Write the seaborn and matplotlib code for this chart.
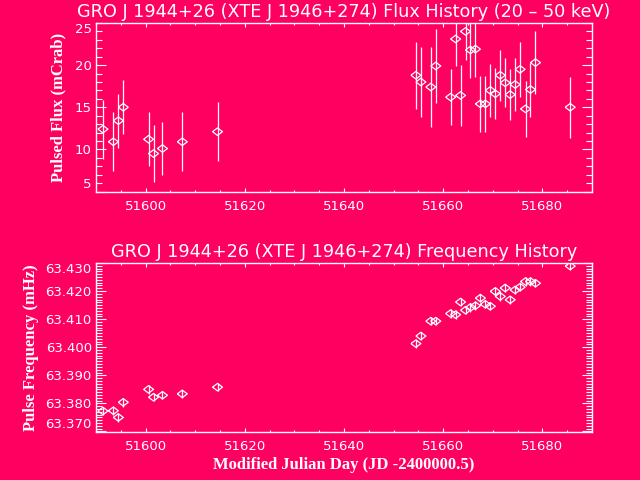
import numpy as np
import pandas as pd
import matplotlib
matplotlib.use("Agg")
import matplotlib.pyplot as plt
from matplotlib.ticker import MultipleLocator, FormatStrFormatter
import seaborn as sns

# Observation epochs (MJD), shared by both panels
mjd = [51591.4, 51593.5, 51594.5, 51595.5, 51600.6, 51601.6, 51603.4, 51607.4,
       51614.5, 51654.5, 51655.5, 51657.5, 51658.5, 51661.5, 51662.5, 51663.5,
       51664.5, 51665.5, 51666.5, 51667.5, 51668.5, 51669.5, 51670.5, 51671.5,
       51672.5, 51673.5, 51674.5, 51675.5, 51676.6, 51677.6, 51678.6, 51685.6]

# pulsed flux (mCrab), 20-50 keV
flux = [12.4, 10.9, 13.4, 15.0, 11.2, 9.5, 10.1, 10.9,
        12.1, 18.8, 18.0, 17.4, 19.9, 16.2, 23.1, 16.4,
        24.0, 21.8, 21.9, 15.4, 15.4, 17.0, 16.6, 18.8,
        17.9, 16.5, 17.7, 19.5, 14.8, 17.1, 20.3, 15.0]
flux_err = [3.5, 3.5, 3.2, 3.2, 3.2, 3.4, 3.2, 3.5,
            3.5, 4.0, 4.2, 4.7, 4.4, 3.3, 3.2, 3.6,
            3.4, 3.3, 3.3, 3.3, 3.3, 3.1, 3.0, 3.0,
            2.9, 3.0, 3.1, 3.3, 3.3, 3.2, 3.7, 3.6]

# pulse frequency (mHz)
freq = [63.3773, 63.3774, 63.3750, 63.3804, 63.3850, 63.3822, 63.3829, 63.3834,
        63.3858, 63.4013, 63.4040, 63.4093, 63.4093, 63.4120, 63.4116, 63.4161,
        63.4132, 63.4142, 63.4148, 63.4175, 63.4153, 63.4146, 63.4199, 63.4181,
        63.4211, 63.4169, 63.4204, 63.4214, 63.4234, 63.4234, 63.4228, 63.4289]
freq_err = [0.0015, 0.0015, 0.0015, 0.0015, 0.0015, 0.0015, 0.0015, 0.0015,
            0.0015, 0.0015, 0.0015, 0.0015, 0.0015, 0.0015, 0.0015, 0.0015,
            0.0015, 0.0015, 0.0015, 0.0015, 0.0015, 0.0015, 0.0015, 0.0015,
            0.0015, 0.0015, 0.0015, 0.0015, 0.0015, 0.0015, 0.0015, 0.0015]

BG = "#ff0060"
FG = "white"

df = pd.DataFrame({"mjd": mjd, "flux": flux, "flux_err": flux_err,
                   "freq": freq, "freq_err": freq_err})

sns.set_theme(style="ticks")
plt.rcParams["font.family"] = ["DejaVu Sans"]

fig = plt.figure(figsize=(6.4, 4.8), dpi=100, facecolor=BG)
ax1 = fig.add_axes([96/640, 1 - 191.5/480, 496/640, 168.5/480])
ax2 = fig.add_axes([96/640, 1 - 431.5/480, 496/640, 168.5/480])

# wide, flat open diamond like the IDL psym
diamond = [(-1, 0), (0, 0.75), (1, 0), (0, -0.75), (-1, 0)]
label_font = dict(family="Liberation Serif", fontsize=12, fontweight="bold", color=FG)

def style(ax):
    ax.set_facecolor(BG)
    for s in ax.spines.values():
        s.set_color(FG)
        s.set_linewidth(1.0)
    ax.tick_params(which="both", direction="in", top=True, right=True,
                   colors=FG, labelcolor=FG, labelsize=9.5, width=0.8)
    ax.tick_params(axis="y", which="major", length=7.2, pad=3)
    ax.tick_params(axis="y", which="minor", length=4.0)
    ax.tick_params(axis="x", which="major", length=2.6, pad=6)
    ax.tick_params(axis="x", which="minor", length=1.6)
    ax.set_xlim(51590, 51690)
    ax.xaxis.set_major_locator(MultipleLocator(20))
    ax.xaxis.set_minor_locator(MultipleLocator(5))

def nudge_end_labels(ax):
    # IDL keeps the end y labels inside the frame
    lo, hi = ax.get_ylim()
    tol = (hi - lo) * 1e-3
    for t in ax.yaxis.get_major_ticks():
        if abs(t.get_loc() - hi) < tol:
            t.label1.set_verticalalignment("top")
        elif abs(t.get_loc() - lo) < tol:
            t.label1.set_verticalalignment("bottom")

# flux history
ax1.errorbar(df["mjd"], df["flux"], yerr=df["flux_err"], fmt="none",
             ecolor=FG, elinewidth=0.9, capsize=0)
sns.scatterplot(data=df, x="mjd", y="flux", ax=ax1, marker=diamond, s=52,
                facecolors="none", edgecolors=FG, linewidth=0.9, zorder=3)
style(ax1)
ax1.set_ylim(5, 25)
ax1.yaxis.set_major_locator(MultipleLocator(5))
ax1.yaxis.set_minor_locator(MultipleLocator(1))
ax1.set_xlabel("")
ax1.set_ylabel("Pulsed Flux (mCrab)", labelpad=6, **label_font)
ax1.set_title("GRO J 1944+26 (XTE J 1946+274) Flux History (20 \u2013 50 keV)",
              color=FG, fontsize=12.7, pad=4)

# frequency history
ax2.errorbar(df["mjd"], df["freq"], yerr=df["freq_err"], fmt="none",
             ecolor=FG, elinewidth=0.9, capsize=0)
sns.scatterplot(data=df, x="mjd", y="freq", ax=ax2, marker=diamond, s=52,
                facecolors="none", edgecolors=FG, linewidth=0.9, zorder=3)
style(ax2)
ax2.set_ylim(63.370, 63.430)
ax2.yaxis.set_major_locator(MultipleLocator(0.01))
ax2.yaxis.set_minor_locator(MultipleLocator(0.001))
ax2.yaxis.set_major_formatter(FormatStrFormatter("%.3f"))
ax2.set_xlabel("Modified Julian Day (JD -2400000.5)", labelpad=3, **label_font)
ax2.set_ylabel("Pulse Frequency (mHz)", labelpad=5, **label_font)
ax2.set_title("GRO J 1944+26 (XTE J 1946+274) Frequency History",
              color=FG, fontsize=12.7, pad=4)

fig.canvas.draw()
nudge_end_labels(ax1)
nudge_end_labels(ax2)

fig.savefig("out.png", dpi=100, facecolor=BG)
